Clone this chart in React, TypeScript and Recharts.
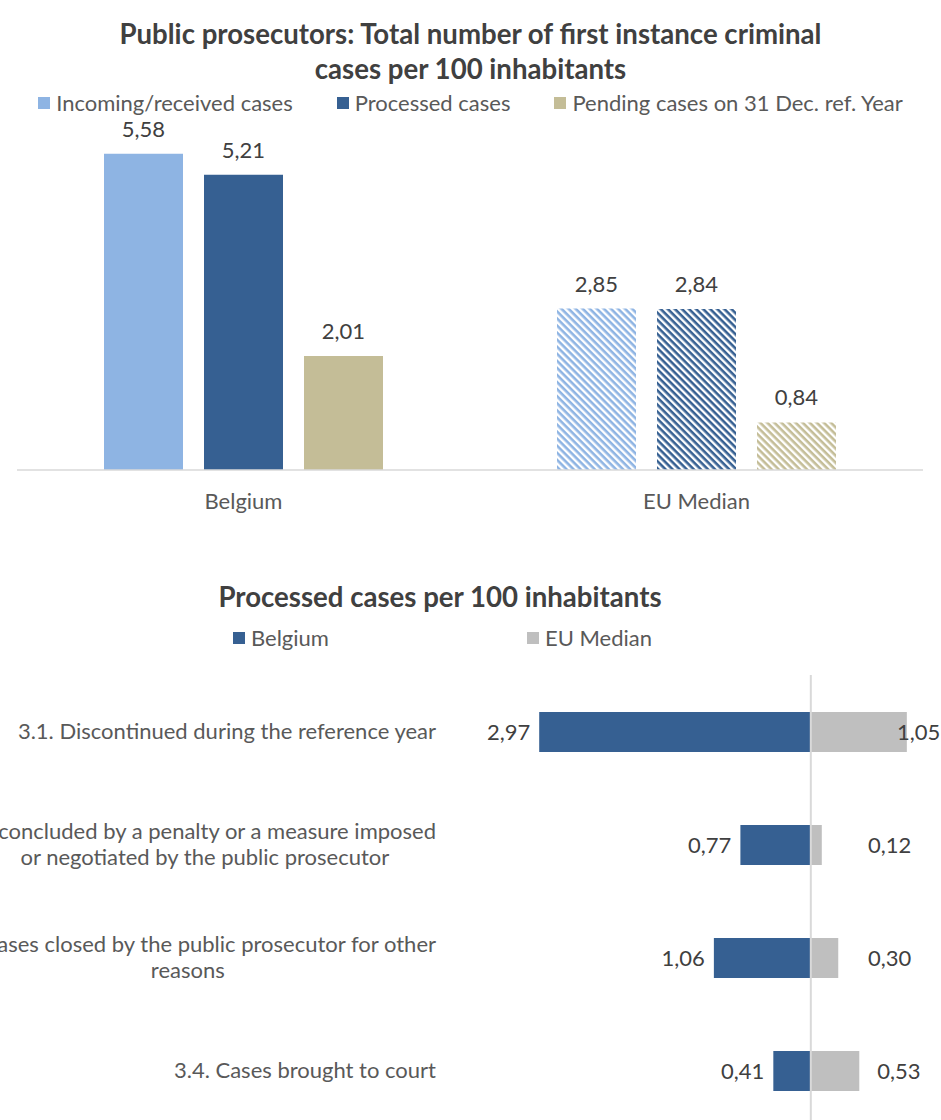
import { Bar, BarChart, Cell, LabelList, ReferenceLine, XAxis, YAxis } from "recharts";

// top chart: totals per 100 inhabitants
const GROUPS = ["Belgium", "EU Median"];
const INCOMING = [5.58, 2.85];
const PROCESSED = [5.21, 2.84];
const PENDING = [2.01, 0.84];

// bottom chart: processed cases split by outcome
const OUTCOMES = [
  "3.1. Discontinued during the reference year",
  "3.2. Cases concluded by a penalty or a measure imposed\nor negotiated by the public prosecutor",
  "3.3. Cases closed by the public prosecutor for other\nreasons",
  "3.4. Cases brought to court",
];
const BELGIUM = [2.97, 0.77, 1.06, 0.41];
const EU_MEDIAN = [1.05, 0.12, 0.3, 0.53];

const C_LIGHT = "#8eb4e3";
const C_DARK = "#366092";
const C_TAN = "#c4bd97";
const C_GREY = "#bfbfbf";
const FONT = "Lato, 'Open Sans', sans-serif";
const FS = 22;
const TEXT = "#595959";
const LABEL = "#404040";

const fmt = (n: number) => Math.abs(n).toFixed(2).replace(".", ",");

const totals = GROUPS.map((g, i) => ({
  group: g,
  incoming: INCOMING[i],
  processed: PROCESSED[i],
  pending: PENDING[i],
}));

const outcomes = OUTCOMES.map((label, i) => ({
  label,
  belgium: -BELGIUM[i],
  eu: EU_MEDIAN[i],
}));

let ctx: CanvasRenderingContext2D | null = null;
function textWidth(s: string) {
  if (!ctx) ctx = document.createElement("canvas").getContext("2d");
  if (!ctx) return s.length * 10;
  ctx.font = `${FS}px ${FONT}`;
  return ctx.measureText(s).width;
}

// multi-line category label: longest line ends at the axis, the shorter
// ones are centred under it (kept inside the page like the original)
function OutcomeTick({ x, y, payload }: any) {
  const lines = String(payload.value).split("\n");
  const widths = lines.map(textWidth);
  const w = Math.max(...widths);
  const lh = 26;
  const y0 = y - ((lines.length - 1) * lh) / 2;
  return (
    <g>
      {lines.map((ln, i) => {
        const longest = widths[i] === w;
        const cx = Math.max(x - w / 2, widths[i] / 2 + 20);
        return (
          <text
            key={i}
            x={longest ? x : cx}
            y={y0 + i * lh}
            dy="0.35em"
            textAnchor={longest ? "end" : "middle"}
            fill={TEXT}
            fontSize={FS}
            fontFamily={FONT}
          >
            {ln}
          </text>
        );
      })}
    </g>
  );
}

function BelgiumLabel({ x, y, width, height, value }: any) {
  const left = Math.min(x, x + width);
  return (
    <text x={left - 9} y={y + height / 2} dy="0.35em" textAnchor="end" fill={LABEL} fontSize={FS} fontFamily={FONT}>
      {fmt(value)}
    </text>
  );
}

function EuLabel({ x, y, width, height, value }: any) {
  const end = x + width;
  const tx = Math.min(897, Math.max(868, end + 18));
  return (
    <text x={tx} y={y + height / 2} dy="0.35em" textAnchor="start" fill={LABEL} fontSize={FS} fontFamily={FONT}>
      {fmt(value)}
    </text>
  );
}

const legendItem = (color: string, text: string, style?: React.CSSProperties) => (
  <span style={{ display: "inline-flex", alignItems: "center", ...style }}>
    <span style={{ width: 12, height: 12, background: color, marginRight: 6 }} />
    {text}
  </span>
);

const titleStyle: React.CSSProperties = {
  position: "absolute",
  left: 0,
  width: 941,
  textAlign: "center",
  fontFamily: FONT,
  fontWeight: 700,
  fontSize: 27.6,
  lineHeight: "35px",
  color: LABEL,
};

const legendStyle: React.CSSProperties = {
  position: "absolute",
  left: 0,
  width: 941,
  display: "flex",
  fontFamily: FONT,
  fontSize: FS,
  color: TEXT,
  lineHeight: "24px",
};

export default function App() {
  return (
    <div style={{ position: "absolute", left: 0, top: 0, width: 941, height: 1120, overflow: "hidden", background: "#fff" }}>
      <div style={{ ...titleStyle, top: 16 }}>
        Public prosecutors: Total number of first instance criminal
        <br />
        cases per 100 inhabitants
      </div>
      <div style={{ ...legendStyle, top: 91, justifyContent: "center", gap: 44 }}>
        {legendItem(C_LIGHT, "Incoming/received cases")}
        {legendItem(C_DARK, "Processed cases")}
        {legendItem(C_TAN, "Pending cases on 31 Dec. ref. Year")}
      </div>

      <div style={{ position: "absolute", left: 0, top: 0 }}>
        <BarChart width={941} height={540} data={totals} margin={{ top: 130, right: 18, left: 17, bottom: 0 }} barSize={79} barGap={21}>
          <defs>
            {[
              ["hatchLight", C_LIGHT],
              ["hatchDark", C_DARK],
              ["hatchTan", C_TAN],
            ].map(([id, c]) => (
              <pattern key={id} id={id} width={5} height={5} patternUnits="userSpaceOnUse" patternTransform="rotate(45)">
                <rect width={5} height={5} fill="#fff" />
                <rect width={5} height={2.6} fill={c} />
              </pattern>
            ))}
          </defs>
          <XAxis
            dataKey="group"
            height={70}
            tickLine={false}
            tickSize={0}
            tickMargin={23}
            axisLine={{ stroke: "#d9d9d9", strokeWidth: 1.5 }}
            tick={{ fill: TEXT, fontSize: FS, fontFamily: FONT }}
          />
          <YAxis hide domain={[0, 6]} />
          <Bar dataKey="incoming" fill={C_LIGHT} isAnimationActive={false}>
            {totals.map((_, i) => (
              <Cell key={i} fill={i === 0 ? C_LIGHT : "url(#hatchLight)"} />
            ))}
            <LabelList dataKey="incoming" position="top" offset={17} formatter={(v: any) => fmt(v)} fill={LABEL} fontSize={FS} fontFamily={FONT} />
          </Bar>
          <Bar dataKey="processed" fill={C_DARK} isAnimationActive={false}>
            {totals.map((_, i) => (
              <Cell key={i} fill={i === 0 ? C_DARK : "url(#hatchDark)"} />
            ))}
            <LabelList dataKey="processed" position="top" offset={17} formatter={(v: any) => fmt(v)} fill={LABEL} fontSize={FS} fontFamily={FONT} />
          </Bar>
          <Bar dataKey="pending" fill={C_TAN} isAnimationActive={false}>
            {totals.map((_, i) => (
              <Cell key={i} fill={i === 0 ? C_TAN : "url(#hatchTan)"} />
            ))}
            <LabelList dataKey="pending" position="top" offset={17} formatter={(v: any) => fmt(v)} fill={LABEL} fontSize={FS} fontFamily={FONT} />
          </Bar>
        </BarChart>
      </div>

      <div style={{ ...titleStyle, top: 579, width: 880 }}>Processed cases per 100 inhabitants</div>
      <div style={{ ...legendStyle, top: 626, paddingLeft: 233 }}>
        {legendItem(C_DARK, "Belgium", { width: 294 })}
        {legendItem(C_GREY, "EU Median")}
      </div>

      <div style={{ position: "absolute", left: 0, top: 560 }}>
        <BarChart
          width={948}
          height={600}
          data={outcomes}
          layout="vertical"
          stackOffset="sign"
          barSize={40}
          margin={{ top: 115, right: 0, left: 0, bottom: 33 }}
        >
          <XAxis type="number" hide domain={[-4, 1.5]} allowDataOverflow />
          <YAxis
            type="category"
            dataKey="label"
            width={445}
            axisLine={false}
            tickLine={false}
            tickSize={0}
            tickMargin={9}
            interval={0}
            tick={<OutcomeTick />}
          />
          <ReferenceLine x={0} stroke="#d9d9d9" strokeWidth={2} />
          <Bar dataKey="belgium" stackId="p" fill={C_DARK} isAnimationActive={false}>
            <LabelList dataKey="belgium" content={<BelgiumLabel />} />
          </Bar>
          <Bar dataKey="eu" stackId="p" fill={C_GREY} isAnimationActive={false}>
            <LabelList dataKey="eu" content={<EuLabel />} />
          </Bar>
        </BarChart>
      </div>
    </div>
  );
}
